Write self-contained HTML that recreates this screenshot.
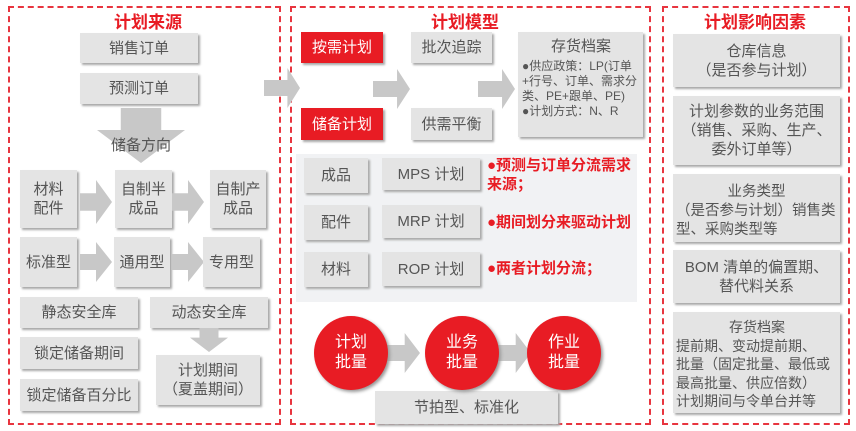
<!DOCTYPE html><html><head><meta charset="utf-8"><style>
body{margin:0;width:856px;height:431px;background:#fff;position:relative;overflow:hidden;font-family:"Liberation Sans","Noto Sans CJK SC",sans-serif;color:#555}
.p{position:absolute;border:2px dashed #e8353f;box-sizing:border-box}
.t{position:absolute;color:#e81c24;font-weight:bold;font-size:17px;text-align:center}
.b{position:absolute;background:#e4e4e4;box-shadow:2px 2px 2px #a8a8a8;display:flex;align-items:center;justify-content:center;text-align:center;font-size:15px;line-height:19px;box-sizing:border-box}
.r{background:#e81c24;color:#fff}
.a{position:absolute;background:#c8c8c8}
.c{position:absolute;width:74px;height:74px;border-radius:50%;background:#e81c24;color:#fff;font-size:16px;line-height:20px;display:flex;align-items:center;justify-content:center;text-align:center;box-shadow:2px 2px 3px #999}
.rt{position:absolute;color:#e81c24;font-weight:bold;font-size:15px;line-height:19px}
</style></head><body>
<div class="p" style="left:8px;top:6px;width:273px;height:419px"></div>
<div class="p" style="left:290px;top:6px;width:361px;height:419px"></div>
<div class="p" style="left:662px;top:6px;width:188px;height:419px"></div>
<div class="t" style="left:90px;top:8px;width:116px">计划来源</div>
<div class="t" style="left:410px;top:8px;width:110px">计划模型</div>
<div class="t" style="left:690px;top:8px;width:130px">计划影响因素</div>

<div class="b" style="left:80px;top:33px;width:118px;height:30px">销售订单</div>
<div class="b" style="left:80px;top:73px;width:118px;height:31px">预测订单</div>
<div style="position:absolute;left:97px;top:108px;width:88px;height:55px;background:#c8c8c8;clip-path:polygon(27% 0,73% 0,73% 40%,100% 40%,50% 100%,0 40%,27% 40%)"></div>
<div style="position:absolute;left:97px;top:134px;width:88px;text-align:center;font-size:15px">储备方向</div>
<div class="b" style="left:20px;top:170px;width:57px;height:58px">材料<br>配件</div>
<div class="a" style="left:80px;top:180px;width:32px;height:44px;clip-path:polygon(0 30%,50% 30%,50% 0,100% 50%,50% 100%,50% 70%,0 70%)"></div>
<div class="b" style="left:115px;top:170px;width:57px;height:58px">自制半<br>成品</div>
<div class="a" style="left:172px;top:180px;width:32px;height:44px;clip-path:polygon(0 30%,50% 30%,50% 0,100% 50%,50% 100%,50% 70%,0 70%)"></div>
<div class="b" style="left:210px;top:170px;width:56px;height:58px">自制产<br>成品</div>
<div class="b" style="left:20px;top:237px;width:57px;height:50px">标准型</div>
<div class="a" style="left:80px;top:242px;width:32px;height:40px;clip-path:polygon(0 30%,50% 30%,50% 0,100% 50%,50% 100%,50% 70%,0 70%)"></div>
<div class="b" style="left:114px;top:237px;width:56px;height:50px">通用型</div>
<div class="a" style="left:172px;top:242px;width:32px;height:40px;clip-path:polygon(0 30%,50% 30%,50% 0,100% 50%,50% 100%,50% 70%,0 70%)"></div>
<div class="b" style="left:203px;top:237px;width:57px;height:50px">专用型</div>
<div class="b" style="left:20px;top:297px;width:118px;height:31px">静态安全库</div>
<div class="b" style="left:150px;top:297px;width:118px;height:31px">动态安全库</div>
<div style="position:absolute;left:190px;top:328px;width:38px;height:24px;background:#c8c8c8;clip-path:polygon(25% 0,75% 0,75% 40%,100% 40%,50% 100%,0 40%,25% 40%)"></div>
<div class="b" style="left:20px;top:337px;width:118px;height:32px">锁定储备期间</div>
<div class="b" style="left:156px;top:355px;width:104px;height:50px">计划期间<br>（夏盖期间）</div>
<div class="b" style="left:20px;top:379px;width:118px;height:32px">锁定储备百分比</div>

<div class="a" style="left:264px;top:68px;width:36px;height:40px;clip-path:polygon(0 30%,65% 30%,65% 0,100% 50%,65% 100%,65% 70%,0 70%)"></div>

<div class="b r" style="left:301px;top:32px;width:82px;height:31px">按需计划</div>
<div class="b r" style="left:301px;top:108px;width:82px;height:32px">储备计划</div>
<div class="a" style="left:373px;top:69px;width:37px;height:40px;clip-path:polygon(0 30%,65% 30%,65% 0,100% 50%,65% 100%,65% 70%,0 70%)"></div>
<div class="b" style="left:411px;top:32px;width:81px;height:31px">批次追踪</div>
<div class="b" style="left:411px;top:108px;width:81px;height:32px">供需平衡</div>
<div class="a" style="left:478px;top:69px;width:37px;height:40px;clip-path:polygon(0 30%,65% 30%,65% 0,100% 50%,65% 100%,65% 70%,0 70%)"></div>
<div class="b" style="left:518px;top:32px;width:125px;height:105px;display:block;text-align:left;font-size:12px;line-height:15px;padding:7px 3px 0 4px"><div style="text-align:center;font-size:15px;margin-bottom:5px">存货档案</div>●供应政策：LP(订单+行号、订单、需求分类、PE+跟单、PE)<br>●计划方式：N、R</div>

<div style="position:absolute;left:296px;top:154px;width:341px;height:148px;background:#f1f2f4"></div>
<div class="b" style="left:304px;top:158px;width:64px;height:35px">成品</div>
<div class="b" style="left:382px;top:158px;width:98px;height:32px">MPS 计划</div>
<div class="b" style="left:304px;top:205px;width:64px;height:35px">配件</div>
<div class="b" style="left:382px;top:205px;width:98px;height:33px">MRP 计划</div>
<div class="b" style="left:304px;top:252px;width:64px;height:35px">材料</div>
<div class="b" style="left:382px;top:252px;width:98px;height:34px">ROP 计划</div>
<div class="rt" style="left:487px;top:156px;width:150px">●预测与订单分流需求来源；</div>
<div class="rt" style="left:487px;top:213px;width:160px">●期间划分来驱动计划</div>
<div class="rt" style="left:487px;top:259px;width:150px">●两者计划分流；</div>

<div class="b" style="left:375px;top:391px;width:183px;height:33px">节拍型、标准化</div>
<div class="a" style="left:386px;top:333px;width:34px;height:40px;clip-path:polygon(0 30%,55% 30%,55% 0,100% 50%,55% 100%,55% 70%,0 70%)"></div>
<div class="a" style="left:497px;top:333px;width:34px;height:40px;clip-path:polygon(0 30%,55% 30%,55% 0,100% 50%,55% 100%,55% 70%,0 70%)"></div>
<div class="c" style="left:314px;top:316px">计划<br>批量</div>
<div class="c" style="left:425px;top:316px">业务<br>批量</div>
<div class="c" style="left:527px;top:316px">作业<br>批量</div>

<div class="b" style="left:673px;top:34px;width:167px;height:53px">仓库信息<br>（是否参与计划）</div>
<div class="b" style="left:673px;top:96px;width:167px;height:69px;padding:0 3px">计划参数的业务范围（销售、采购、生产、委外订单等）</div>
<div class="b" style="left:673px;top:174px;width:167px;height:68px;display:block;text-align:left;padding:9px 3px 0 3px;font-size:14.5px"><div style="text-align:center">业务类型</div>（是否参与计划）销售类<br>型、采购类型等</div>
<div class="b" style="left:673px;top:250px;width:167px;height:53px">BOM 清单的偏置期、<br>替代料关系</div>
<div class="b" style="left:673px;top:312px;width:167px;height:101px;display:block;text-align:left;padding:6px 2px 0 3px;font-size:14px;white-space:nowrap;line-height:18.5px"><div style="text-align:center">存货档案</div>提前期、变动提前期、<br>批量（固定批量、最低或<br>最高批量、供应倍数）<br>计划期间与令单台并等</div>
</body></html>
